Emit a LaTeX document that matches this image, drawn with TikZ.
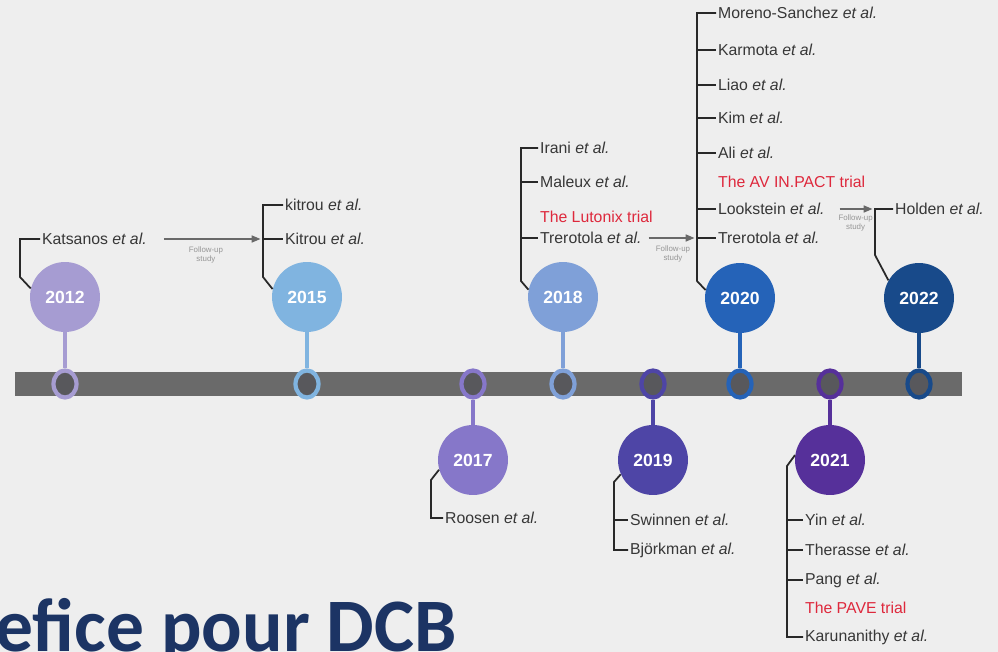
\documentclass[tikz,border=0pt]{standalone}
\usepackage{fontspec}
\setmainfont{Liberation Sans}
\newfontfamily\titlefont{Carlito}
\usetikzlibrary{arrows.meta,positioning,shapes.geometric,calc}
\definecolor{bggray}{RGB}{238,238,238}
\definecolor{bargray}{RGB}{106,106,106}
\definecolor{ringcore}{RGB}{88,88,92}
\definecolor{reftext}{RGB}{55,55,55}
\definecolor{bracketgray}{RGB}{40,40,40}
\definecolor{arrowgray}{RGB}{105,105,105}
\definecolor{trialred}{RGB}{222,40,60}
\definecolor{titlenavy}{RGB}{28,52,100}
\definecolor{ctwelve}{RGB}{166,156,210}
\definecolor{cfifteen}{RGB}{128,180,224}
\definecolor{cseventeen}{RGB}{134,119,201}
\definecolor{ceighteen}{RGB}{127,160,216}
\definecolor{cnineteen}{RGB}{78,69,166}
\definecolor{ctwenty}{RGB}{37,99,184}
\definecolor{ctwentyone}{RGB}{86,48,154}
\definecolor{ctwentytwo}{RGB}{24,74,138}

\begin{document}
\begin{tikzpicture}[x=0.02cm,y=-0.02cm,
  yearnode/.style={circle,minimum size=1.4cm,inner sep=0pt,text=white,font=\bfseries\fontsize{10}{10}\selectfont},
  ringnode/.style={ellipse,minimum width=0.46cm,minimum height=0.54cm,inner sep=0pt,line width=2.4pt,fill=ringcore},
  stem/.style={line width=2.4pt},
  ref/.style={anchor=west,inner sep=1pt,text=reftext,font=\fontsize{9}{10}\selectfont},
  trial/.style={ref,text=trialred},
  bracket/.style={draw=bracketgray,line width=1pt},
  followup/.style={draw=arrowgray,line width=0.8pt,-{Triangle[length=5pt,width=4pt]},shorten >=0.05cm},
  fulabel/.style={font=\fontsize{4.5}{5}\selectfont,text=arrowgray!70,align=center,inner sep=1pt}]

\clip (0,0) rectangle (998,652);
\fill[bggray] (0,0) rectangle (998,652);

% TIMELINE: bar, year circles, markers
\fill[bargray] (15,372) rectangle (962,396);
\foreach \yr/\xx/\yy/\col in {2012/65/297/ctwelve, 2015/307/297/cfifteen, 2017/473/460/cseventeen,
    2018/563/297/ceighteen, 2019/653/460/cnineteen, 2020/740/298/ctwenty,
    2021/830/460/ctwentyone, 2022/919/298/ctwentytwo}{
  \node[yearnode,fill=\col] (y\yr) at (\xx,\yy) {\yr};
  \node[ringnode,draw=\col] (m\yr) at (\xx,384) {};
  \draw[stem,\col] (y\yr) -- (m\yr);
}

% 2012 and 2015
\node[ref] (katsanos) at (40,239) {Katsanos \textit{et al.}};
\coordinate (t2012) at (20,277);
\draw[bracket] (y2012.166) -- (t2012) |- (katsanos.west);
\node[ref] (kitrouA) at (283,205) {kitrou \textit{et al.}};
\node[ref] (kitrouB) at (283,239) {Kitrou \textit{et al.}};
\coordinate (t2015) at (263,277);
\draw[bracket] (y2015.167) -- (t2015) |- (kitrouA.west);
\draw[bracket] (kitrouB.west -| t2015) -- (kitrouB.west);
\draw[followup,shorten <=0.3cm] (katsanos.east) -- node[fulabel,below=3pt] (fuA) {Follow-up\\study} (katsanos.east -| t2015);

% 2018
\node[ref] (irani) at (538,148) {Irani \textit{et al.}};
\node[ref] (maleux) at (538,182) {Maleux \textit{et al.}};
\node[trial] (lutonix) at (538,217) {The Lutonix trial};
\node[ref] (trerotolaA) at (538,238) {Trerotola \textit{et al.}};
\coordinate (t2018) at (521,281);
\draw[bracket] (y2018.168) -- (t2018) |- (irani.west);
\foreach \nm in {maleux,trerotolaA}
  \draw[bracket] (\nm.west -| t2018) -- (\nm.west);

% 2020
\node[ref] (moreno) at (716,13) {Moreno-Sanchez \textit{et al.}};
\node[ref] (karmota) at (716,50) {Karmota \textit{et al.}};
\node[ref] (liao) at (716,85) {Liao \textit{et al.}};
\node[ref] (kim) at (716,118) {Kim \textit{et al.}};
\node[ref] (ali) at (716,153) {Ali \textit{et al.}};
\node[trial] (avinpact) at (716,182) {The AV IN.PACT trial};
\node[ref] (lookstein) at (716,209) {Lookstein \textit{et al.}};
\node[ref] (trerotolaB) at (716,238) {Trerotola \textit{et al.}};
\coordinate (t2020) at (697,281);
\draw[bracket] (y2020.167) -- (t2020) |- (moreno.west);
\foreach \nm in {karmota,liao,kim,ali,lookstein,trerotolaB}
  \draw[bracket] (\nm.west -| t2020) -- (\nm.west);
\draw[followup,shorten <=0.1cm] (trerotolaA.east) -- node[fulabel,below=3pt,pos=0.55] (fuB) {Follow-up\\study} (trerotolaA.east -| t2020);

% 2022
\node[ref] (holden) at (893,209) {Holden \textit{et al.}};
\coordinate (t2022) at (875,255);
\draw[bracket] (y2022.150) -- (t2022) |- (holden.west);
\draw[followup,shorten <=0.26cm] (lookstein.east) -- node[fulabel,below=2pt,pos=0.6] (fuC) {Follow-up\\study} (lookstein.east -| t2022);

% 2017 and 2019 (below the bar)
\node[ref] (roosen) at (443,518) {Roosen \textit{et al.}};
\coordinate (t2017) at (431,480);
\draw[bracket] (y2017.196) -- (t2017) |- (roosen.west);
\node[ref] (swinnen) at (628,520) {Swinnen \textit{et al.}};
\node[ref] (bjorkman) at (628,550) {Björkman \textit{et al.}};
\coordinate (t2019) at (614,482);
\draw[bracket] (y2019.204) -- (t2019) |- (bjorkman.west);
\draw[bracket] (swinnen.west -| t2019) -- (swinnen.west);

% 2021
\node[ref] (yin) at (803,520) {Yin \textit{et al.}};
\node[ref] (therasse) at (803,550) {Therasse \textit{et al.}};
\node[ref] (pang) at (803,580) {Pang \textit{et al.}};
\node[trial] (pave) at (803,608) {The PAVE trial};
\node[ref] (karunanithy) at (803,637) {Karunanithy \textit{et al.}};
\coordinate (t2021) at (787,466);
\draw[bracket] (y2021.172) -- (t2021) |- (karunanithy.west);
\foreach \nm in {yin,therasse,pang}
  \draw[bracket] (\nm.west -| t2021) -- (\nm.west);

% TITLE (cut by the frame)
\node[anchor=base west,inner sep=0pt,text=titlenavy,font=\titlefont\bfseries\fontsize{43}{43}\selectfont] (title) at (-5,651) {efice pour DCB};
\end{tikzpicture}
\end{document}
